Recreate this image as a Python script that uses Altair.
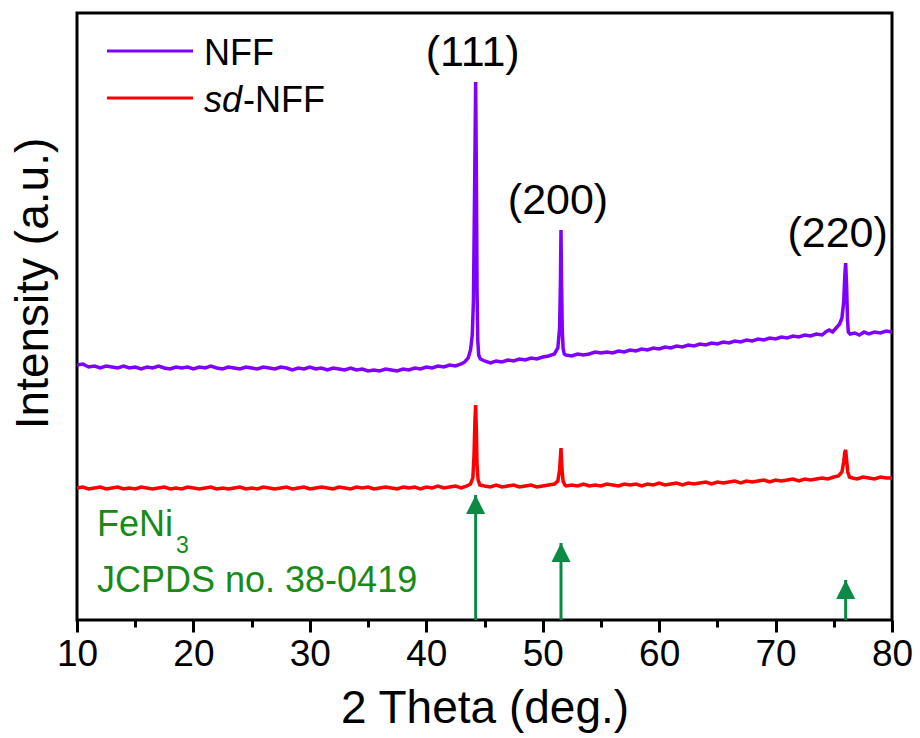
import altair as alt
import pandas as pd

FONT = "Liberation Sans, Arial, Helvetica, sans-serif"
VIOLET = "#8000ff"
RED = "#ff0000"
ARROW_GREEN = "#0a8a45"
TEXT_GREEN = "#178a17"

# ---- XRD pattern of NFF (2 theta in degrees, intensity in a.u.) ----
nff_two_theta = [
    10.0, 10.5, 11.0, 11.5, 12.0, 12.5, 13.0, 13.5, 14.0, 14.5, 15.0, 15.5, 16.0, 16.5,
    17.0, 17.5, 18.0, 18.5, 19.0, 19.5, 20.0, 20.5, 21.0, 21.5, 22.0, 22.5, 23.0, 23.5,
    24.0, 24.5, 25.0, 25.5, 26.0, 26.5, 27.0, 27.5, 28.0, 28.5, 29.0, 29.5, 30.0, 30.5,
    31.0, 31.5, 32.0, 32.5, 33.0, 33.5, 34.0, 34.5, 35.0, 35.5, 36.0, 36.5, 37.0, 37.5,
    38.0, 38.5, 39.0, 39.5, 40.0, 40.5, 41.0, 41.5, 42.0, 42.5, 43.0, 43.3, 43.6, 43.8,
    43.95, 44.05, 44.15, 44.24, 44.3, 44.36, 44.42, 44.5, 44.65, 45.0, 45.5, 46.0, 46.5,
    47.0, 47.5, 48.0, 48.5, 49.0, 49.5, 50.0, 50.5, 51.0, 51.3, 51.45, 51.52, 51.57,
    51.62, 51.68, 51.75, 51.85, 52.0, 52.5, 53.0, 53.5, 54.0, 54.5, 55.0, 55.5, 56.0,
    56.5, 57.0, 57.5, 58.0, 58.5, 59.0, 59.5, 60.0, 60.5, 61.0, 61.5, 62.0, 62.5, 63.0,
    63.5, 64.0, 64.5, 65.0, 65.5, 66.0, 66.5, 67.0, 67.5, 68.0, 68.5, 69.0, 69.5, 70.0,
    70.5, 71.0, 71.5, 72.0, 72.5, 73.0, 73.5, 74.0, 74.3, 74.6, 74.9, 75.2, 75.5, 75.7,
    75.85, 75.95, 76.02, 76.1, 76.18, 76.25, 76.4, 76.8, 77.2, 77.6, 78.0, 78.5, 79.0,
    79.5, 80.0,
]
nff_intensity = [
    255, 256, 253, 254, 252, 254, 253, 252, 254, 252, 253, 251, 253, 252,
    254, 252, 251, 253, 252, 253, 251, 253, 252, 254, 252, 251, 253, 252,
    251, 253, 252, 251, 253, 252, 251, 253, 252, 250, 252, 251, 253, 251,
    252, 250, 252, 251, 250, 252, 250, 251, 249, 250, 249, 251, 250, 249,
    251, 250, 252, 251, 253, 252, 254, 253, 255, 254, 256, 258, 262, 270,
    285, 320, 430, 538, 450, 330, 280, 265, 261, 259, 257, 259, 258,
    260, 259, 261, 260, 262, 261, 263, 264, 266, 272, 292, 335, 390,
    335, 290, 272, 266, 265, 264, 266, 265, 266, 268, 267, 268, 267,
    269, 268, 270, 269, 271, 270, 272, 271, 273, 272, 274, 273, 275, 274,
    276, 275, 277, 276, 278, 277, 279, 278, 280, 279, 281, 280, 282, 281,
    283, 282, 284, 283, 285, 284, 286, 285, 288, 290, 288, 292, 296, 302,
    318, 345, 357, 335, 300, 288, 286, 287, 285, 288, 286, 288, 287,
    289, 288,
]

# ---- XRD pattern of sd-NFF ----
sd_two_theta = [
    10.0, 10.5, 11.0, 11.5, 12.0, 12.5, 13.0, 13.5, 14.0, 14.5, 15.0, 15.5, 16.0, 16.5,
    17.0, 17.5, 18.0, 18.5, 19.0, 19.5, 20.0, 20.5, 21.0, 21.5, 22.0, 22.5, 23.0, 23.5,
    24.0, 24.5, 25.0, 25.5, 26.0, 26.5, 27.0, 27.5, 28.0, 28.5, 29.0, 29.5, 30.0, 30.5,
    31.0, 31.5, 32.0, 32.5, 33.0, 33.5, 34.0, 34.5, 35.0, 35.5, 36.0, 36.5, 37.0, 37.5,
    38.0, 38.5, 39.0, 39.5, 40.0, 40.5, 41.0, 41.5, 42.0, 42.5, 43.0, 43.5, 43.8, 44.0,
    44.1, 44.18, 44.24, 44.3, 44.36, 44.45, 44.6, 45.0, 45.5, 46.0, 46.5, 47.0, 47.5,
    48.0, 48.5, 49.0, 49.5, 50.0, 50.5, 51.0, 51.3, 51.45, 51.57, 51.66, 51.75, 51.9,
    52.0, 52.5, 53.0, 53.5, 54.0, 54.5, 55.0, 55.5, 56.0, 56.5, 57.0, 57.5, 58.0, 58.5,
    59.0, 59.5, 60.0, 60.5, 61.0, 61.5, 62.0, 62.5, 63.0, 63.5, 64.0, 64.5, 65.0, 65.5,
    66.0, 66.5, 67.0, 67.5, 68.0, 68.5, 69.0, 69.5, 70.0, 70.5, 71.0, 71.5, 72.0, 72.5,
    73.0, 73.5, 74.0, 74.5, 75.0, 75.4, 75.7, 75.85, 75.95, 76.02, 76.1, 76.2, 76.35,
    76.6, 77.0, 77.5, 78.0, 78.5, 79.0, 79.5, 80.0,
]
sd_intensity = [
    132, 133, 131, 132, 133, 131, 132, 133, 131, 132, 131, 133, 132, 131,
    132, 133, 131, 132, 131, 133, 132, 131, 132, 133, 131, 132, 131, 132,
    133, 131, 132, 131, 133, 132, 131, 132, 133, 131, 132, 133, 131, 132,
    133, 132, 131, 133, 132, 131, 133, 132, 133, 131, 132, 133, 132, 131,
    133, 132, 133, 131, 133, 132, 134, 132, 133, 134, 132, 134, 136, 142,
    165, 200, 215, 190, 155, 140, 135, 134, 133, 135, 133, 134, 135,
    133, 134, 135, 133, 134, 135, 136, 139, 150, 172, 150, 139, 135,
    134, 135, 134, 136, 134, 135, 134, 136, 135, 134, 136, 135, 136, 134,
    136, 135, 137, 135, 136, 137, 135, 137, 136, 137, 138, 136, 138, 137,
    138, 139, 137, 139, 138, 139, 140, 138, 140, 139, 140, 141, 139, 141,
    140, 141, 142, 141, 143, 144, 148, 158, 168, 170, 160, 148, 143,
    142, 141, 143, 142, 141, 143, 142, 142,
]

# ---- FeNi3 reference lines (JCPDS no. 38-0419) and reflection labels ----
ref_two_theta = [44.24, 51.57, 76.02]
ref_height = [125, 77, 40]
hkl_labels = ["(111)", "(200)", "(220)"]
hkl_height = [538, 390, 357]

series_names = ["NFF", "sd-NFF"]

patterns = pd.concat([
    pd.DataFrame({"two_theta": nff_two_theta, "intensity": nff_intensity, "sample": series_names[0]}),
    pd.DataFrame({"two_theta": sd_two_theta, "intensity": sd_intensity, "sample": series_names[1]}),
])
refs = pd.DataFrame({"two_theta": ref_two_theta, "height": ref_height})
hkl = pd.DataFrame({"two_theta": ref_two_theta, "height": hkl_height, "hkl": hkl_labels})

x_scale = alt.Scale(domain=[10, 80], nice=False, zero=False)
y_scale = alt.Scale(domain=[0, 607], nice=False, zero=False)

x_axis = alt.Axis(
    values=list(range(10, 81, 5)),
    labelExpr="datum.value % 10 === 0 ? datum.label : ''",
    tickSize={"condition": {"test": "datum.value % 10 === 0", "value": 12}, "value": 7},
    tickWidth=3,
    tickColor="black",
    domain=False,
    grid=False,
    labelFlush=False,
    labelFont=FONT,
    labelFontSize=37,
    labelColor="black",
    labelPadding=4,
    title="2 Theta (deg.)",
    titleFont=FONT,
    titleFontSize=46,
    titleFontWeight="normal",
    titleColor="black",
    titlePadding=14,
)
y_axis = alt.Axis(
    title="Intensity (a.u.)",
    labels=False,
    ticks=False,
    domain=False,
    grid=False,
    titleFont=FONT,
    titleFontSize=46,
    titleFontWeight="normal",
    titleColor="black",
    titlePadding=20,
    titleY=270,
)

X = alt.X("two_theta:Q", scale=x_scale, axis=x_axis)

lines = alt.Chart(patterns).mark_line(strokeWidth=3.5).encode(
    x=X,
    y=alt.Y("intensity:Q", scale=y_scale, axis=y_axis),
    color=alt.Color("sample:N", scale=alt.Scale(domain=series_names, range=[VIOLET, RED]), legend=None),
)

stems = alt.Chart(refs).mark_rule(strokeWidth=3, color=ARROW_GREEN).encode(
    x=alt.X("two_theta:Q", scale=x_scale),
    y=alt.Y("height:Q", scale=y_scale),
    y2=alt.datum(0),
)
heads = alt.Chart(refs).mark_point(
    shape="M0,-1L1,1L-1,1Z", filled=True, size=361, opacity=1,
    color=ARROW_GREEN, strokeWidth=0, yOffset=9.5,
).encode(
    x=alt.X("two_theta:Q", scale=x_scale),
    y=alt.Y("height:Q", scale=y_scale),
)

hkl_base = alt.Chart(hkl).mark_text(
    font=FONT, fontSize=43, color="black", align="center", baseline="alphabetic", dy=-16,
).encode(
    x=alt.X("two_theta:Q", scale=x_scale),
    y=alt.Y("height:Q", scale=y_scale),
    text="hkl:N",
)
hkl_low = hkl_base.transform_filter(alt.datum.two_theta < 60).mark_text(
    font=FONT, fontSize=43, color="black", align="center", baseline="alphabetic", dy=-16, dx=-3,
)
hkl_high = hkl_base.transform_filter(alt.datum.two_theta > 60).mark_text(
    font=FONT, fontSize=43, color="black", align="center", baseline="alphabetic", dy=-16, dx=-8,
)


def label(text, x, y, size, color="black", style="normal"):
    return alt.Chart(pd.DataFrame({"t": [text]})).mark_text(
        font=FONT, fontSize=size, color=color, fontStyle=style,
        align="left", baseline="alphabetic",
    ).encode(text="t:N", x=alt.value(x), y=alt.value(y))


def key_line(color, y):
    return alt.Chart(pd.DataFrame({"k": [0]})).mark_rule(strokeWidth=3, color=color).encode(
        x=alt.value(30), x2=alt.value(116), y=alt.value(y)
    )


legend = alt.layer(
    key_line(VIOLET, 38),
    key_line(RED, 85),
    label("NFF", 127, 52, 36),
    label("sd", 127, 99, 36, style="italic"),
    label("-NFF", 166, 99, 36),
)

card = alt.layer(
    label("FeNi", 20, 523, 36, TEXT_GREEN),
    label("3", 99, 540, 23, TEXT_GREEN),
    label("JCPDS no. 38-0419", 20, 579, 36, TEXT_GREEN),
)

chart = alt.layer(lines, stems, heads, hkl_low, hkl_high, legend, card).properties(
    width=815,
    height=607,
    autosize=alt.AutoSizeParams(type="none"),
    padding={"left": 77, "top": 13, "right": 28, "bottom": 118},
    background="white",
).configure_view(stroke="black", strokeWidth=3)

chart.save("out.html", embed_options={"renderer": "svg", "actions": False})
